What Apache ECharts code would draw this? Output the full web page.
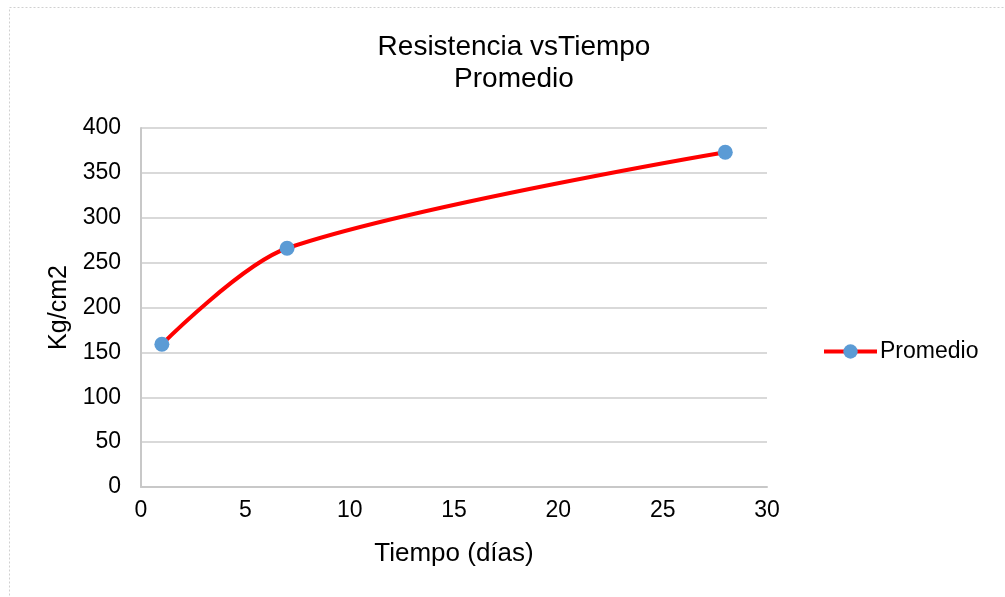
<!DOCTYPE html>
<html>
<head>
<meta charset="utf-8">
<script src="https://cdn.jsdelivr.net/npm/echarts@6/dist/echarts.min.js"></script>
<style>
html,body{margin:0;padding:0;background:#fff;}
#chart{width:1005px;height:597px;}
</style>
</head>
<body>
<div id="chart"></div>
<script>
const titleLines = ['Resistencia vsTiempo', 'Promedio'];
const seriesName = 'Promedio';
const days = [1, 7, 28];
const strength = [159, 266, 373];
const xTicks = [0, 5, 10, 15, 20, 25, 30];
const yTicks = [0, 50, 100, 150, 200, 250, 300, 350, 400];

const font = 'Liberation Sans, Arial, sans-serif';
const chart = echarts.init(document.getElementById('chart'));
chart.setOption({
  animation: false,
  backgroundColor: '#fff',
  title: {
    text: titleLines.join('\n'),
    left: 509, top: 26, textAlign: 'center',
    textStyle: {fontFamily: font, fontSize: 28, fontWeight: 'normal', color: '#000', lineHeight: 32}
  },
  graphic: [{
    type: 'rect', shape: {x: 9.5, y: 7.5, width: 1010, height: 600},
    style: {fill: 'none', stroke: '#d0d0d0', lineWidth: 1, lineDash: [2, 2]}, silent: true
  }],
  legend: {
    data: [seriesName], left: 817, top: 335, itemWidth: 53, itemHeight: 18, itemGap: 0,
    lineStyle: {width: 4},
    textStyle: {fontFamily: font, fontSize: 23, color: '#000', padding: [0, 0, 0, -2]}
  },
  grid: {left: 141, right: 238, top: 128, bottom: 110},
  xAxis: {
    type: 'value', min: xTicks[0], max: xTicks[xTicks.length - 1], interval: 5,
    name: 'Tiempo (días)', nameLocation: 'middle', nameGap: 54,
    nameTextStyle: {fontFamily: font, fontSize: 26, color: '#000'},
    axisLine: {show: true, lineStyle: {color: '#c8c8c8', width: 2}},
    axisTick: {show: false},
    axisLabel: {fontFamily: font, fontSize: 23, color: '#000', margin: 12},
    splitLine: {show: false}
  },
  yAxis: {
    type: 'value', min: yTicks[0], max: yTicks[yTicks.length - 1], interval: 50,
    name: 'Kg/cm2', nameLocation: 'middle', nameGap: 69,
    nameTextStyle: {fontFamily: font, fontSize: 25, color: '#000'},
    axisLine: {show: true, lineStyle: {color: '#c8c8c8', width: 2}},
    axisTick: {show: false},
    axisLabel: {fontFamily: font, fontSize: 23, color: '#000', margin: 20},
    splitLine: {show: true, lineStyle: {color: '#d9d9d9', width: 2}}
  },
  series: [{
    name: seriesName, type: 'line', smooth: 0.3,
    data: days.map((d, i) => [d, strength[i]]),
    symbol: 'circle', symbolSize: 15,
    lineStyle: {color: '#ff0000', width: 4},
    itemStyle: {color: '#5b9bd5'}
  }]
});
</script>
</body>
</html>
